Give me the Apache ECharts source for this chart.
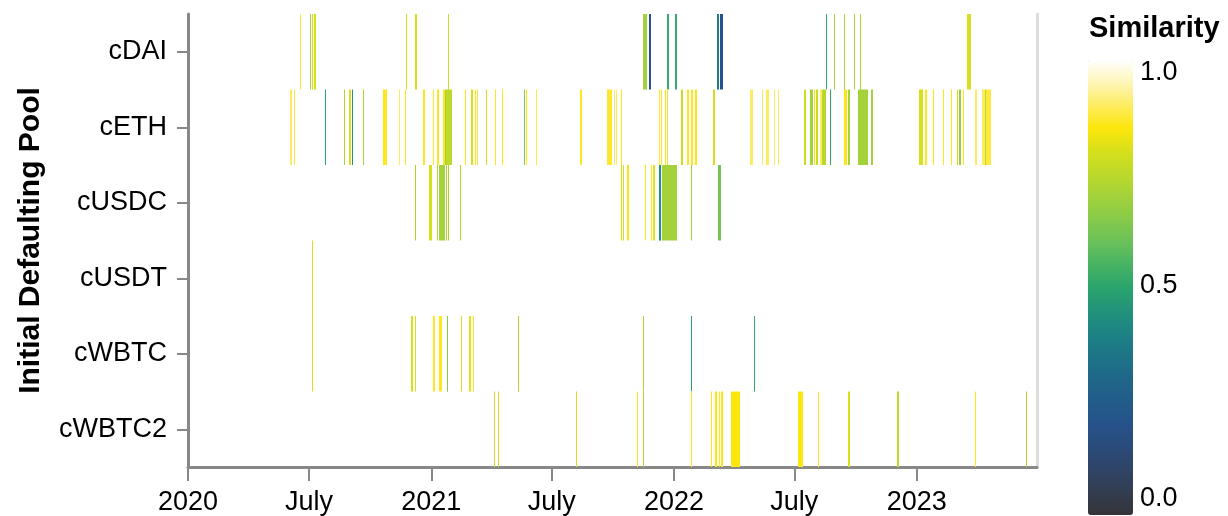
<!DOCTYPE html>
<html>
<head>
<meta charset="utf-8">
<title>Similarity by initial defaulting pool</title>
<script src="https://cdn.jsdelivr.net/npm/echarts@6/dist/echarts.min.js"></script>
<style>
  html, body { margin: 0; padding: 0; background: #fff; }
  #chart { width: 1228px; height: 516px; }
</style>
</head>
<body>
<div id="chart"></div>
<script>
// pools, top to bottom
var pools = ['cDAI', 'cETH', 'cUSDC', 'cUSDT', 'cWBTC', 'cWBTC2'];

// [first day, number of days, similarity]
var cDAI = [
  ['2020-06-18', 1, 0.87], ['2020-07-02', 1, 0.72], ['2020-07-05', 1, 0.8], ['2020-07-08', 4, 0.8],
  ['2020-11-24', 1, 0.8], ['2020-12-08', 3, 0.8], ['2021-01-26', 1, 0.78],
  ['2021-11-15', 6, 0.7], ['2021-11-25', 3, 0.2], ['2021-12-21', 4, 0.52], ['2022-01-02', 3, 0.52],
  ['2022-03-06', 3, 0.38], ['2022-03-11', 4, 0.2],
  ['2022-08-18', 1, 0.52], ['2022-08-29', 1, 0.72], ['2022-09-14', 1, 0.72], ['2022-09-28', 1, 0.72],
  ['2022-10-07', 1, 0.72], ['2023-03-17', 6, 0.8]
];
var cETH = [
  ['2020-06-03', 3, 0.9], ['2020-06-08', 1, 0.88], ['2020-07-25', 1, 0.5], ['2020-08-22', 1, 0.72],
  ['2020-08-30', 3, 0.8], ['2020-09-03', 1, 0.45], ['2020-09-20', 1, 0.72], ['2020-10-21', 6, 0.86],
  ['2020-11-14', 1, 0.9], ['2020-11-22', 1, 0.86], ['2020-12-19', 3, 0.86], ['2021-01-04', 1, 0.87],
  ['2021-01-10', 3, 0.86], ['2021-01-18', 3, 0.86], ['2021-01-21', 1, 0.7], ['2021-01-23', 9, 0.75],
  ['2021-02-20', 1, 0.86], ['2021-03-01', 3, 0.8], ['2021-03-07', 1, 0.86], ['2021-03-10', 1, 0.86],
  ['2021-03-24', 1, 0.8], ['2021-04-06', 1, 0.86], ['2021-04-18', 1, 0.86], ['2021-05-21', 1, 0.65],
  ['2021-05-24', 1, 0.86], ['2021-06-07', 1, 0.88], ['2021-08-12', 3, 0.86], ['2021-09-22', 7, 0.87],
  ['2021-10-02', 1, 0.9], ['2021-10-05', 1, 0.9], ['2021-10-13', 1, 0.86], ['2021-12-10', 1, 0.88],
  ['2021-12-13', 1, 0.86], ['2021-12-18', 1, 0.86], ['2021-12-22', 1, 0.86], ['2022-01-11', 4, 0.78],
  ['2022-01-21', 3, 0.86], ['2022-01-27', 3, 0.86], ['2022-02-01', 3, 0.85], ['2022-02-28', 3, 0.8],
  ['2022-04-25', 5, 0.9], ['2022-05-13', 1, 0.9], ['2022-05-19', 5, 0.9], ['2022-06-01', 1, 0.9],
  ['2022-06-06', 1, 0.9], ['2022-07-15', 3, 0.78], ['2022-07-24', 3, 0.7], ['2022-07-28', 1, 0.7],
  ['2022-07-31', 1, 0.85], ['2022-08-03', 3, 0.78], ['2022-08-09', 3, 0.9], ['2022-08-12', 6, 0.74],
  ['2022-08-24', 1, 0.5], ['2022-09-14', 4, 0.85], ['2022-09-19', 4, 0.7], ['2022-10-04', 16, 0.7],
  ['2022-10-25', 3, 0.7], ['2023-01-05', 5, 0.8], ['2023-01-13', 3, 0.86], ['2023-01-25', 1, 0.86],
  ['2023-02-09', 1, 0.86], ['2023-02-21', 1, 0.86], ['2023-03-03', 1, 0.8], ['2023-03-05', 3, 0.68],
  ['2023-03-11', 1, 0.86], ['2023-03-29', 3, 0.9], ['2023-04-09', 5, 0.9], ['2023-04-13', 1, 0.75],
  ['2023-04-15', 8, 0.88]
];
var cUSDC = [
  ['2020-12-08', 1, 0.72], ['2020-12-28', 5, 0.8], ['2021-01-09', 1, 0.72], ['2021-01-12', 9, 0.7],
  ['2021-01-23', 1, 0.72], ['2021-01-26', 1, 0.72], ['2021-02-13', 1, 0.72],
  ['2021-10-14', 1, 0.8], ['2021-10-17', 1, 0.8], ['2021-10-22', 3, 0.85], ['2021-11-19', 1, 0.86],
  ['2021-11-27', 1, 0.86], ['2021-12-01', 3, 0.82], ['2021-12-09', 1, 0.8], ['2021-12-10', 3, 0.45],
  ['2021-12-14', 22, 0.7], ['2022-01-26', 1, 0.7], ['2022-03-08', 5, 0.62]
];
var cUSDT = [
  ['2020-07-06', 1, 0.8]
];
var cWBTC = [
  ['2020-07-06', 1, 0.8], ['2020-12-02', 3, 0.8], ['2020-12-08', 1, 0.8], ['2021-01-03', 3, 0.86],
  ['2021-01-12', 5, 0.86], ['2021-01-24', 1, 0.8], ['2021-01-25', 1, 0.65], ['2021-02-15', 1, 0.8],
  ['2021-02-27', 3, 0.82], ['2021-03-04', 1, 0.86], ['2021-05-11', 1, 0.72], ['2021-11-16', 1, 0.72],
  ['2022-01-26', 1, 0.5], ['2022-05-01', 1, 0.52]
];
var cWBTC2 = [
  ['2021-04-05', 1, 0.8], ['2021-04-11', 1, 0.8], ['2021-08-06', 1, 0.8], ['2021-11-07', 1, 0.86],
  ['2021-11-15', 1, 0.72], ['2022-01-27', 1, 0.86], ['2022-02-26', 1, 0.86], ['2022-03-03', 3, 0.85],
  ['2022-03-09', 1, 0.86], ['2022-03-13', 3, 0.85], ['2022-03-27', 15, 0.85], ['2022-07-07', 5, 0.85],
  ['2022-07-13', 1, 0.86], ['2022-08-06', 1, 0.86], ['2022-09-20', 3, 0.8], ['2022-12-03', 3, 0.76],
  ['2023-03-29', 1, 0.86], ['2023-06-15', 1, 0.72]
];

var poolData = [cDAI, cETH, cUSDC, cUSDT, cWBTC, cWBTC2];
var xStart = '2020-01-01';
var xEnd = '2023-06-30 23:00';
var legendTicks = ['1.0', '0.5', '0.0'];

// colour scale, similarity 0.0 -> 1.0 in steps of 0.05
var simColors = [
  '#343438', '#323d50', '#2f4466', '#2a4b7a', '#26528a', '#225c8a', '#1f6689', '#1e7487',
  '#1d8384', '#22937a', '#2aa46d', '#47b363', '#6ac15a', '#87ca4a', '#a3d23b', '#bdd92b',
  '#d6e01b', '#fde60c', '#fdec60', '#fef6b8', '#ffffff'
];

var DAY = 24 * 3600 * 1000;
var FONT = '"Liberation Sans", Arial, Helvetica, sans-serif';

var rows = [];
poolData.forEach(function (list, p) {
  list.forEach(function (d) {
    var t0 = new Date(d[0] + 'T00:00:00').getTime();
    rows.push([t0, p, d[2], t0 + d[1] * DAY]);
  });
});

// one rect per run of days, snapped to whole pixels so thin days stay crisp
function renderItem(params, api) {
  var a = api.coord([api.value(0), api.value(1)]);
  var b = api.coord([api.value(3), api.value(1)]);
  var h = api.size([0, 1])[1];
  var x0 = Math.round(a[0]);
  var x1 = Math.max(Math.round(b[0]), x0 + 1);
  return {
    type: 'rect',
    shape: { x: x0, y: a[1] - h / 2, width: x1 - x0, height: h },
    style: { fill: api.visual('color') }
  };
}

var myChart = echarts.init(document.getElementById('chart'));
myChart.setOption({
  animation: false,
  textStyle: { fontFamily: FONT },
  grid: { left: 188, right: 191, top: 14, bottom: 48 },
  xAxis: {
    type: 'time',
    min: xStart,
    max: xEnd,
    minInterval: 183 * DAY,
    maxInterval: 183 * DAY,
    splitLine: { show: false },
    axisLine: { show: true, onZero: false, lineStyle: { color: '#888', width: 3 } },
    axisTick: { show: true, length: 14, lineStyle: { color: '#888', width: 2 } },
    axisLabel: {
      color: '#000', fontSize: 27, fontFamily: FONT, margin: 22, hideOverlap: false,
      formatter: function (v) {
        var dt = new Date(v);
        return dt.getMonth() === 0 ? String(dt.getFullYear()) : 'July';
      }
    }
  },
  yAxis: [{
    type: 'category',
    data: pools,
    inverse: true,
    name: 'Initial Defaulting Pool',
    nameLocation: 'middle',
    nameRotate: 90,
    nameGap: 142,
    nameTextStyle: { color: '#000', fontSize: 30, fontWeight: 'bold', fontFamily: FONT },
    axisLine: { show: true, lineStyle: { color: '#888', width: 3 } },
    axisTick: { show: true, alignWithLabel: true, length: 11, lineStyle: { color: '#888', width: 2 } },
    axisLabel: { color: '#000', fontSize: 27, fontFamily: FONT, margin: 21 },
    splitLine: { show: false }
  }, {
    type: 'category',
    data: pools,
    inverse: true,
    position: 'right',
    axisLine: { show: true, lineStyle: { color: '#ddd', width: 3 } },
    axisTick: { show: false },
    axisLabel: { show: false },
    splitLine: { show: false }
  }],
  visualMap: {
    type: 'continuous',
    seriesIndex: 0,
    dimension: 2,
    min: 0,
    max: 1,
    orient: 'vertical',
    left: 1088,
    top: 60,
    padding: 0,
    itemWidth: 45,
    itemHeight: 455,
    text: null,
    calculable: false,
    inRange: { color: simColors }
  },
  graphic: [
    { type: 'text', left: 1089, top: 14, style: { text: 'Similarity', fill: '#000', font: 'bold 29px ' + FONT } },
    { type: 'text', left: 1140, top: 59, style: { text: legendTicks[0], fill: '#000', font: '27px ' + FONT } },
    { type: 'text', left: 1140, top: 272, style: { text: legendTicks[1], fill: '#000', font: '27px ' + FONT } },
    { type: 'text', left: 1140, top: 485, style: { text: legendTicks[2], fill: '#000', font: '27px ' + FONT } }
  ],
  series: [{
    type: 'custom',
    renderItem: renderItem,
    encode: { x: [0, 3], y: 1 },
    data: rows
  }]
});
</script>
</body>
</html>
